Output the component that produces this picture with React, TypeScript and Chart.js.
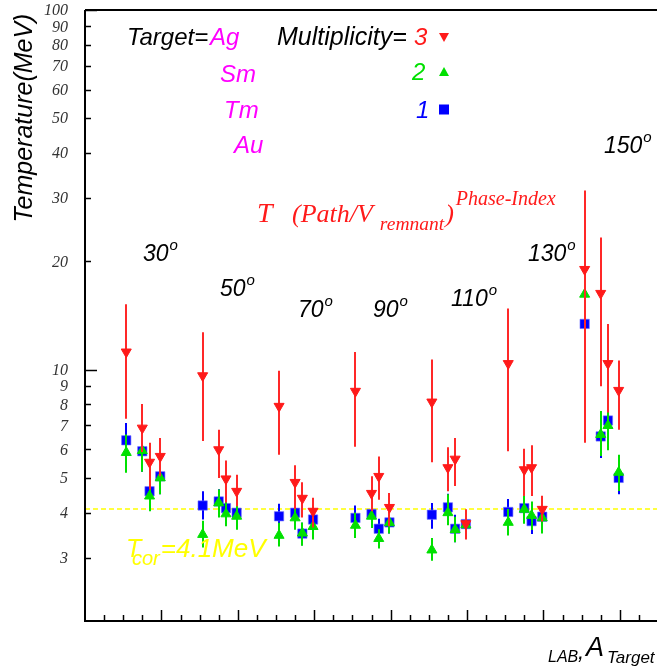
import React, { useEffect, useRef } from "react";
import { Chart, registerables } from "chart.js";

Chart.register(...registerables);

// ---- data ----
const angles = [30, 50, 70, 90, 110, 130, 150];
const targets = ["Ag", "Sm", "Tm", "Au"];
const targetMass = [108, 150, 169, 197];

// Multiplicity = 3 (red, down triangles)
const m3Value = [
  11.2, 6.88, 5.53, 5.74,
  9.62, 5.99, 4.97, 4.59,
  7.91, 4.86, 4.39, 4.04,
  8.71, 4.53, 5.05, 4.14,
  8.13, 5.34, 5.64, 3.73,
  10.4, 5.27, 5.34, 4.09,
  19.0, 16.3, 10.4, 8.76,
];
const m3Low = [
  7.3, 5.9, 4.64, 5.05,
  6.33, 5.0, 4.27, 4.17,
  5.8, 4.09, 3.88, 3.64,
  6.1, 4.04, 4.35, 3.67,
  5.53, 4.59, 4.75, 3.37,
  5.93, 4.45, 4.45, 3.78,
  6.26, 8.99, 7.6, 6.81,
];
const m3High = [
  15.2, 8.03, 6.26, 6.46,
  12.7, 6.81, 5.59, 5.1,
  9.93, 5.42, 4.86, 4.4,
  11.2, 5.05, 5.73, 4.54,
  10.67, 6.08, 6.46, 4.09,
  14.8, 6.03, 6.16, 4.46,
  31.5, 23.3, 13.4, 10.6,
];

// Multiplicity = 2 (green, up triangles)
const m2Value = [
  5.88, 5.95, 4.45, 5.0,
  3.48, 4.26, 3.97, 3.91,
  3.46, 3.87, 3.51, 3.66,
  3.69, 3.91, 3.39, 3.75,
  3.15, 4.0, 3.59, 3.7,
  3.76, 4.09, 3.93, 3.87,
  16.2, 6.6, 6.99, 5.18,
];
const m2Low = [
  5.17, 5.2, 4.04, 4.5,
  3.2, 3.88, 3.67, 3.59,
  3.22, 3.59, 3.24, 3.37,
  3.4, 3.63, 3.18, 3.5,
  2.94, 3.69, 3.31, 3.4,
  3.46, 3.73, 3.58, 3.5,
  14.0, 5.75, 5.97, 4.6,
];
const m2High = [
  6.6, 6.6, 4.9, 5.6,
  3.8, 4.64, 4.3, 4.2,
  3.75, 4.2, 3.76, 4.0,
  4.0, 4.2, 3.6, 4.0,
  3.4, 4.5, 3.9, 4.0,
  4.1, 4.6, 4.3, 4.2,
  18.5, 7.67, 8.1, 5.8,
];

// Multiplicity = 1 (blue, squares)
const m1Value = [
  6.36, 5.93, 4.59, 5.05,
  4.19, 4.3, 4.12, 4.0,
  3.91, 4.0, 3.5, 3.83,
  3.87, 3.97, 3.61, 3.76,
  3.95, 4.14, 3.61, 3.72,
  4.02, 4.12, 3.79, 3.9,
  13.4, 6.52, 7.22, 5.0,
];
const m1Low = [
  5.7, 5.2, 4.2, 4.5,
  3.83, 3.95, 3.8, 3.7,
  3.6, 3.7, 3.25, 3.55,
  3.55, 3.7, 3.37, 3.5,
  3.61, 3.8, 3.31, 3.45,
  3.7, 3.8, 3.49, 3.6,
  11.0, 5.68, 6.5, 4.5,
];
const m1High = [
  7.1, 6.7, 5.0, 5.6,
  4.59, 4.65, 4.45, 4.3,
  4.24, 4.3, 3.75, 4.1,
  4.19, 4.25, 3.85, 4.05,
  4.26, 4.52, 3.95, 4.0,
  4.37, 4.45, 4.1, 4.2,
  16.0, 7.4, 8.0, 5.6,
];

const yTickLabels = [3, 4, 5, 6, 7, 8, 9, 10, 20, 30, 40, 50, 60, 70, 80, 90, 100];
const yTickMarks = [3, 4, 5, 6, 7, 8, 9, 10, 20, 30, 40, 50, 60, 70, 80, 90, 100];
const tCor = 4.1;
const xMin = 30;
const xMax = 180;
const yMin = 2;
const yMax = 100;

// x coordinate on the "theta_LAB, A_Target" axis
const xPositions = angles.flatMap((a) => targetMass.map((m) => a + m / 10));

const SANS = '"Liberation Sans", Arial, Helvetica, sans-serif';
const SERIF = '"Liberation Serif", "Times New Roman", Times, serif';
const RED = "#ff1a1a";
const GREEN = "#00e000";
const BLUE = "#0000ff";
const MAGENTA = "#ff00ff";
const YELLOW = "#ffff00";

function points(values: number[]) {
  return values.map((v, i) => ({ x: xPositions[i], y: v }));
}

const errorBarPlugin = {
  id: "errorBars",
  beforeDatasetDraw(chart: any, args: any) {
    const ds = chart.data.datasets[args.index];
    if (!ds.errLow) return;
    const { ctx } = chart;
    const xs = chart.scales.x;
    const ys = chart.scales.y;
    ctx.save();
    ctx.strokeStyle = ds.errColor;
    ctx.lineWidth = 2;
    ds.data.forEach((p: any, i: number) => {
      const px = Math.round(xs.getPixelForValue(p.x));
      ctx.beginPath();
      ctx.moveTo(px, ys.getPixelForValue(ds.errLow[i]));
      ctx.lineTo(px, ys.getPixelForValue(ds.errHigh[i]));
      ctx.stroke();
    });
    ctx.restore();
  },
};

function txt(ctx: any, s: string, x: number, y: number, font: string, color: string) {
  ctx.font = font;
  ctx.fillStyle = color;
  ctx.fillText(s, x, y);
  return x + ctx.measureText(s).width;
}

function degLabel(ctx: any, s: string, x: number, y: number) {
  const end = txt(ctx, s, x, y, `italic 23px ${SANS}`, "#000");
  txt(ctx, "o", end + 1, y - 11, `italic 15px ${SANS}`, "#000");
}

const framePlugin = {
  id: "frame",
  afterDraw(chart: any) {
    const { ctx, chartArea: ca } = chart;
    const xs = chart.scales.x;
    const ys = chart.scales.y;
    ctx.save();
    ctx.textBaseline = "alphabetic";
    ctx.textAlign = "left";

    // axes
    ctx.strokeStyle = "#000";
    ctx.lineWidth = 2;
    ctx.beginPath();
    ctx.moveTo(ca.left, ca.top);
    ctx.lineTo(ca.left, ca.bottom);
    ctx.lineTo(ca.right, ca.bottom);
    ctx.stroke();
    ctx.beginPath();
    ctx.moveTo(ca.left, ca.top);
    ctx.lineTo(ca.right, ca.top);
    ctx.stroke();

    // y ticks (inside)
    ctx.lineWidth = 1.5;
    yTickMarks.forEach((v) => {
      const py = Math.round(ys.getPixelForValue(v)) + 0.5;
      const len = v === 10 || v === 100 ? 12 : 6;
      ctx.beginPath();
      ctx.moveTo(ca.left, py);
      ctx.lineTo(ca.left + len, py);
      ctx.stroke();
    });
    // x ticks (inside)
    for (let v = xMin + 5; v < xMax; v += 5) {
      const px = Math.round(xs.getPixelForValue(v)) + 0.5;
      const major = (v - xMin) % 20 === 0;
      const len = major ? 11 : 6;
      ctx.beginPath();
      ctx.moveTo(px, ca.bottom);
      ctx.lineTo(px, ca.bottom - len);
      ctx.stroke();
    }

    // y tick labels
    ctx.textAlign = "right";
    ctx.textBaseline = "middle";
    ctx.font = `italic 16px ${SERIF}`;
    ctx.fillStyle = "#333";
    yTickLabels.forEach((v) => {
      ctx.fillText(String(v), ca.left - 17, ys.getPixelForValue(v) + 1);
    });

    // y title
    ctx.save();
    ctx.translate(32, 118);
    ctx.rotate(-Math.PI / 2);
    ctx.textAlign = "center";
    ctx.textBaseline = "alphabetic";
    ctx.font = `italic 25px ${SANS}`;
    ctx.fillStyle = "#000";
    ctx.fillText("Temperature(MeV)", 0, 0);
    ctx.restore();

    ctx.textAlign = "left";
    ctx.textBaseline = "alphabetic";

    // x title
    txt(ctx, "LAB", 548, 662, `italic 16px ${SANS}`, "#000");
    txt(ctx, ",", 578, 659, `italic 22px ${SANS}`, "#000");
    txt(ctx, "A", 586, 656, `italic 27px ${SANS}`, "#000");
    txt(ctx, "Target", 607, 663, `italic 17px ${SANS}`, "#000");

    // legend block
    const LF = `italic 24px ${SANS}`;
    txt(ctx, "Target=", 127, 45, LF, "#000");
    txt(ctx, targets[0], 210, 45, LF, MAGENTA);
    txt(ctx, targets[1], 220, 82, LF, MAGENTA);
    txt(ctx, targets[2], 224, 118, LF, MAGENTA);
    txt(ctx, targets[3], 234, 153, LF, MAGENTA);
    txt(ctx, "Multiplicity=", 277, 45, `italic 25px ${SANS}`, "#000");
    txt(ctx, "3", 414, 45, LF, RED);
    txt(ctx, "2", 412, 80, LF, GREEN);
    txt(ctx, "1", 416, 118, LF, BLUE);
    // legend markers
    ctx.fillStyle = RED;
    ctx.beginPath();
    ctx.moveTo(439, 33);
    ctx.lineTo(449, 33);
    ctx.lineTo(444, 42);
    ctx.closePath();
    ctx.fill();
    ctx.fillStyle = GREEN;
    ctx.beginPath();
    ctx.moveTo(439, 76);
    ctx.lineTo(449, 76);
    ctx.lineTo(444, 67);
    ctx.closePath();
    ctx.fill();
    ctx.fillStyle = BLUE;
    ctx.fillRect(439, 104.5, 10, 10);

    // formula
    txt(ctx, "T", 257, 222, `italic 28px ${SERIF}`, RED);
    let e = txt(ctx, "(Path/V", 292, 222, `italic 26px ${SERIF}`, RED);
    e = txt(ctx, "remnant", e + 7, 230, `italic 19.5px ${SERIF}`, RED);
    e = txt(ctx, ")", e + 1, 222, `italic 26px ${SERIF}`, RED);
    txt(ctx, "Phase-Index", e + 2, 205, `italic 20px ${SERIF}`, RED);

    // angle labels
    degLabel(ctx, "30", 143, 261);
    degLabel(ctx, "50", 220, 296);
    degLabel(ctx, "70", 298, 317);
    degLabel(ctx, "90", 373, 317);
    degLabel(ctx, "110", 451, 306);
    degLabel(ctx, "130", 528, 261);
    degLabel(ctx, "150", 604, 153);

    // T_cor label
    txt(ctx, "T", 126, 557, `italic 25px ${SANS}`, YELLOW);
    const t = txt(ctx, "cor", 132, 565, `italic 20px ${SANS}`, YELLOW);
    txt(ctx, "=4.1MeV", t + 1, 557, `italic 26px ${SANS}`, YELLOW);

    ctx.restore();
  },
};

export default function App() {
  const ref = useRef<HTMLCanvasElement | null>(null);

  useEffect(() => {
    const canvas = ref.current;
    if (!canvas) return;
    const chart = new Chart(canvas, {
      type: "scatter",
      data: {
        datasets: [
          {
            label: "Multiplicity 3",
            data: points(m3Value),
            errLow: m3Low,
            errHigh: m3High,
            errColor: "rgb(255,40,40)",
            pointStyle: "triangle",
            pointRotation: 180,
            pointRadius: 5.8,
            backgroundColor: RED,
            borderColor: RED,
            borderWidth: 1,
            order: 1,
          } as any,
          {
            label: "Multiplicity 2",
            data: points(m2Value),
            errLow: m2Low,
            errHigh: m2High,
            errColor: "rgb(0,225,0)",
            pointStyle: "triangle",
            pointRadius: 5.8,
            backgroundColor: GREEN,
            borderColor: GREEN,
            borderWidth: 1,
            order: 2,
          } as any,
          {
            label: "Multiplicity 1",
            data: points(m1Value),
            errLow: m1Low,
            errHigh: m1High,
            errColor: BLUE,
            pointStyle: "rect",
            pointRadius: 6.6,
            backgroundColor: BLUE,
            borderColor: "rgba(110,110,255,0.6)",
            borderWidth: 1,
            order: 3,
          } as any,
          {
            label: "Tcor",
            data: [
              { x: xMin, y: tCor },
              { x: xMax, y: tCor },
            ],
            showLine: true,
            borderColor: YELLOW,
            borderWidth: 1.5,
            borderDash: [5, 3],
            pointRadius: 0,
            order: 4,
          } as any,
        ],
      },
      options: {
        animation: false,
        responsive: false,
        devicePixelRatio: 1,
        layout: { padding: { left: 85, top: 10, right: 12, bottom: 49 } },
        plugins: { legend: { display: false }, tooltip: { enabled: false } },
        scales: {
          x: { type: "linear", min: xMin, max: xMax, display: false },
          y: { type: "logarithmic", min: yMin, max: yMax, display: false },
        },
      },
      plugins: [errorBarPlugin, framePlugin],
    });
    return () => chart.destroy();
  }, []);

  return (
    <div
      style={{
        position: "fixed",
        left: 0,
        top: 0,
        width: 657,
        height: 670,
        overflow: "hidden",
        background: "#fff",
      }}
    >
      <canvas ref={ref} width={670} height={670} style={{ width: 670, height: 670, display: "block" }} />
    </div>
  );
}
